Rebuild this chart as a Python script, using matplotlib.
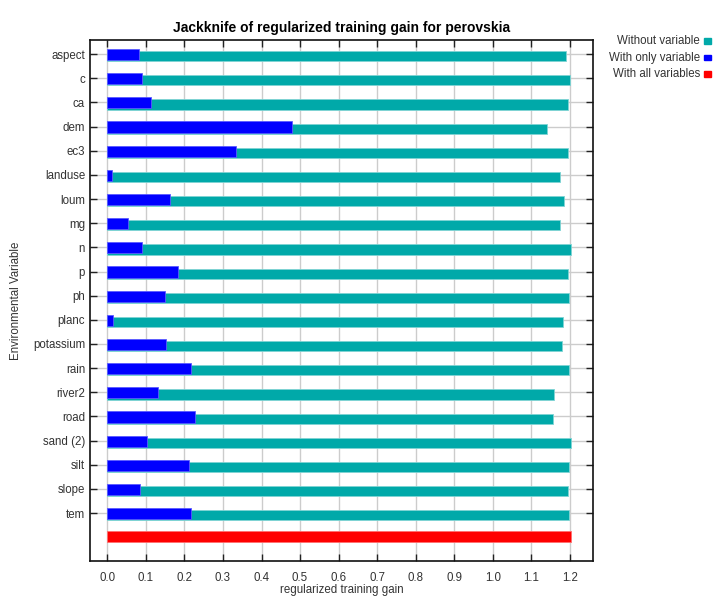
import matplotlib
matplotlib.use("Agg")
import matplotlib.pyplot as plt
import numpy as np

plt.rcParams['font.family'] = ['Liberation Sans', 'DejaVu Sans']

variables = ["aspect", "c", "ca", "dem", "ec3", "landuse", "loum", "mg", "n", "p",
             "ph", "planc", "potassium", "rain", "river2", "road", "sand (2)", "silt",
             "slope", "tem"]
without_variable = [1.191, 1.201, 1.194, 1.141, 1.194, 1.175, 1.185, 1.175, 1.202, 1.196,
                    1.199, 1.183, 1.180, 1.199, 1.159, 1.156, 1.202, 1.197, 1.194, 1.199]
with_only_variable = [0.082, 0.090, 0.113, 0.478, 0.334, 0.013, 0.162, 0.053, 0.090, 0.183,
                      0.149, 0.016, 0.151, 0.217, 0.132, 0.228, 0.103, 0.212, 0.085, 0.217]
with_all_variables = 1.202
x_ticks = [0.0, 0.1, 0.2, 0.3, 0.4, 0.5, 0.6, 0.7, 0.8, 0.9, 1.0, 1.1, 1.2]

teal = "#00A9A9"
blue = "#0000FF"
red = "#FF0000"

fig = plt.figure(figsize=(7.13, 5.97), dpi=100)
ax = fig.add_axes([0.1262, 0.0603, 0.7055, 0.8727])

pos = np.arange(len(variables))
ax.barh(pos + 0.09, without_variable, height=0.42, color=teal,
        edgecolor="#7fd4d4", linewidth=0.6, zorder=3)
ax.barh(pos + 0.02, with_only_variable, height=0.46, color=blue,
        edgecolor="#5a5aff", linewidth=0.6, zorder=4)
ax.barh([len(variables) - 0.02], [with_all_variables], height=0.45, color=red,
        edgecolor="#ff7070", linewidth=0.6, zorder=4)

ax.set_ylim(20.98, -0.58)
ax.set_xlim(-0.045, 1.26)
ax.set_yticks(pos)
ax.set_yticklabels(variables)
ax.set_xticks(x_ticks)
ax.set_xticklabels([f"{t:.1f}" for t in x_ticks])

ax.grid(True, color="#cccccc", linewidth=1.0, zorder=0)
ax.set_axisbelow(True)
ax.tick_params(axis="both", direction="in", length=5, width=1, colors="#222222",
               labelcolor="#333333", labelsize=8.3, top=True, right=True)
ax.tick_params(axis="x", pad=8)
for s in ax.spines.values():
    s.set_linewidth(1.2)
    s.set_color("#111111")

ax.set_title("Jackknife of regularized training gain for perovskia",
             fontsize=10, fontweight="bold", pad=6)
ax.set_xlabel("regularized training gain", fontsize=8.3, color="#333333", labelpad=0)
ax.set_ylabel("Environmental Variable", fontsize=8.3, color="#333333", labelpad=8)

legend_items = [("Without variable", teal), ("With only variable", blue),
                ("With all variables", red)]
for i, (label, col) in enumerate(legend_items):
    y = 1 - (41 + i * 16.5) / 597
    fig.text(0.982, y, label, ha="right", va="center", fontsize=8.3, color="#333333")
    fig.patches.append(plt.Rectangle((0.988, y - 0.0045), 0.0085, 0.0095,
                                     transform=fig.transFigure, color=col, figure=fig))

fig.savefig("out.png", dpi=100)
